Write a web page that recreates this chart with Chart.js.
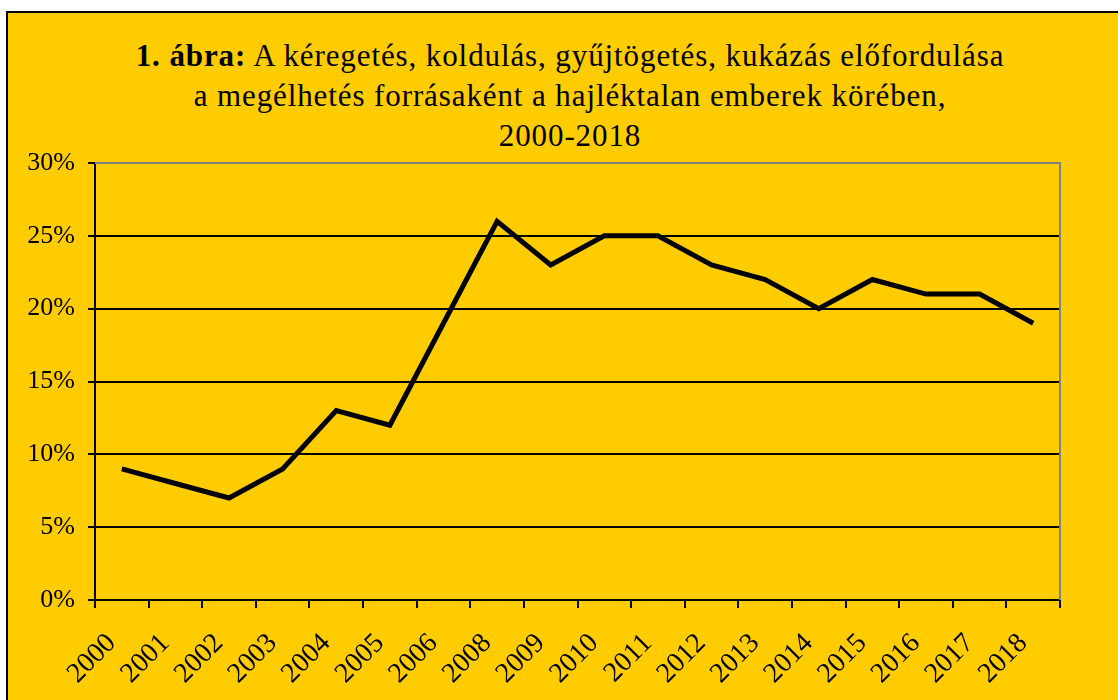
<!DOCTYPE html>
<html>
<head>
<meta charset="utf-8">
<script src="https://cdn.jsdelivr.net/npm/chart.js@4/dist/chart.umd.min.js"></script>
<style>
  html, body { margin: 0; padding: 0; background: #ffffff; width: 1118px; height: 700px; overflow: hidden; }
  #frame { position: absolute; left: 6px; top: 11px; width: 1130px; height: 720px; background: #FFCC00; border: 2px solid #000; box-sizing: border-box; }
  #title { position: absolute; left: 0; width: 1140px; top: 36px; text-align: center; font-family: "Liberation Serif", "Times New Roman", serif; font-size: 31px; letter-spacing: 0.9px; line-height: 40px; color: #000; }
  #title b { font-weight: bold; }
  #wrap { position: absolute; left: 0; top: 0; width: 1118px; height: 700px; }
</style>
</head>
<body>
<div id="frame"></div>
<div id="title"><b>1. ábra:</b> A kéregetés, koldulás, gyűjtögetés, kukázás előfordulása<br>a megélhetés forrásaként a hajléktalan emberek körében,<br>2000-2018</div>
<div id="wrap"><canvas id="c" width="1118" height="700"></canvas></div>
<script>
const years = ["2000","2001","2002","2003","2004","2005","2006","2008","2009","2010","2011","2012","2013","2014","2015","2016","2017","2018"];
const shares = [9, 8, 7, 9, 13, 12, 19, 26, 23, 25, 25, 23, 22, 20, 22, 21, 21, 19];
const yTicks = [0, 5, 10, 15, 20, 25, 30];

const plotFrame = {
  id: 'plotFrame',
  afterDraw(chart) {
    const a = chart.chartArea, ctx = chart.ctx;
    ctx.save();
    ctx.strokeStyle = '#808080';
    ctx.lineWidth = 2;
    ctx.beginPath();
    ctx.moveTo(a.left, a.top);
    ctx.lineTo(a.right, a.top);
    ctx.lineTo(a.right, a.bottom);
    ctx.stroke();
    ctx.restore();
  }
};

new Chart(document.getElementById('c'), {
  type: 'line',
  data: {
    labels: years,
    datasets: [{
      data: shares,
      borderColor: '#000',
      borderWidth: 5,
      pointRadius: 0,
      tension: 0,
      borderJoinStyle: 'miter',
      fill: false
    }]
  },
  options: {
    responsive: false,
    animation: false,
    devicePixelRatio: 1,
    layout: { padding: { top: 163, right: 58, left: 0, bottom: 0 } },
    plugins: { legend: { display: false }, tooltip: { enabled: false }, title: { display: false } },
    scales: {
      x: {
        type: 'category',
        offset: true,
        grid: { offset: true, drawOnChartArea: false, drawTicks: true, tickLength: 8, color: '#000', lineWidth: 2 },
        border: { display: true, color: '#000', width: 2 },
        ticks: {
          color: '#000',
          font: { family: '"Liberation Serif", "Times New Roman", serif', size: 28 },
          maxRotation: 45, minRotation: 45,
          autoSkip: false,
          padding: 19,
          labelOffset: -10
        },
        afterFit(scale) { scale.height = 100; }
      },
      y: {
        min: 0, max: 30,
        afterBuildTicks(scale) { scale.ticks = yTicks.map(v => ({ value: v })); },
        grid: { color: '#000', lineWidth: 2, drawTicks: true, tickLength: 7 },
        border: { display: true, color: '#000', width: 2 },
        ticks: {
          color: '#000',
          font: { family: '"Liberation Serif", "Times New Roman", serif', size: 26 },
          padding: 13,
          callback: v => v + '%'
        },
        afterFit(scale) { scale.width = 95; }
      }
    }
  },
  plugins: [plotFrame]
});
</script>
</body>
</html>
